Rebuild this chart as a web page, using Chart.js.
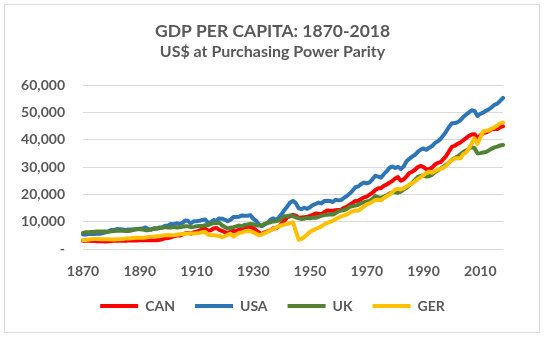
<!DOCTYPE html>
<html>
<head>
<meta charset="utf-8">
<script src="https://cdn.jsdelivr.net/npm/chart.js@4"></script>
<style>
  html, body { margin: 0; padding: 0; background: #fff; }
  #wrap { width: 545px; height: 338px; position: relative; }
</style>
</head>
<body>
<div id="wrap"><canvas id="myChart"></canvas></div>
<script>
// years 1870..2018
let years = [];
for (let y = 1870; y <= 2018; y++) years.push(String(y));

let can = [
  3000, 3000, 3100, 2900, 2900, 2800, 2800, 2800, 2700, 2800,
  2900, 3000, 3000, 3000, 3100, 3000, 3100, 3100, 3100, 3100,
  3200, 3200, 3300, 3200, 3300, 3200, 3200, 3400, 3600, 3900,
  4000, 4300, 4600, 4900, 4900, 5300, 5700, 5900, 5600, 6100,
  6300, 6700, 7100, 7400, 6800, 6900, 7500, 7700, 7000, 6600,
  6200, 5700, 6300, 6600, 6500, 7100, 7400, 7800, 8200, 8100,
  7600, 6900, 6000, 5500, 6100, 6500, 6800, 7500, 7600, 8300,
  9200, 10400, 11700, 12000, 12500, 12200, 11400, 11500, 11600, 11700,
  12100, 12500, 13000, 12900, 12700, 13500, 14100, 14000, 14000, 14200,
  14300, 14400, 15100, 15500, 16200, 16900, 17600, 17700, 18300, 18900,
  19200, 19900, 20600, 21600, 22200, 22300, 23100, 23600, 24300, 24900,
  25800, 26300, 25000, 25500, 26600, 27800, 28300, 29000, 30000, 30400,
  30000, 29200, 29300, 29800, 30900, 31500, 31800, 32900, 34100, 35800,
  37400, 37800, 38500, 39000, 39800, 40600, 41400, 41900, 42000, 40600,
  41500, 42400, 42700, 43200, 43900, 43900, 43900, 44600, 44900
];

let usa = [
  5300, 5350, 5450, 5600, 5500, 5550, 5600, 5800, 6100, 6500,
  7000, 7000, 7300, 7200, 7100, 7000, 7100, 7100, 7200, 7300,
  7400, 7500, 7900, 7300, 7000, 7600, 7400, 7900, 8000, 8500,
  8600, 9200, 9100, 9400, 9200, 9500, 10400, 10300, 9300, 10200,
  10200, 10300, 10600, 10800, 9700, 9800, 10600, 10400, 11200, 11100,
  10700, 10200, 10700, 11700, 11700, 11800, 12300, 12200, 12200, 12400,
  11100, 10300, 9000, 8300, 9000, 9600, 10700, 11200, 10700, 11500,
  12800, 14300, 15600, 17000, 17600, 16800, 14900, 14600, 15100, 14700,
  15300, 16100, 16500, 17000, 16700, 17600, 17700, 17600, 17200, 18000,
  17800, 17900, 18800, 19400, 20300, 21400, 22600, 22900, 23800, 24300,
  24000, 24400, 25500, 26800, 26500, 26100, 27400, 28400, 29700, 30200,
  29700, 30100, 29300, 30200, 32100, 33000, 33800, 34500, 35600, 36400,
  36800, 36300, 37100, 37700, 38800, 39400, 40300, 41600, 43100, 44700,
  46000, 46100, 46400, 47200, 48300, 49200, 50000, 50800, 50500, 48700,
  49500, 49900, 50600, 51100, 51900, 52800, 53200, 54200, 55300
];

let uk = [
  5900, 6100, 6100, 6200, 6300, 6400, 6400, 6400, 6400, 6300,
  6500, 6600, 6700, 6700, 6700, 6600, 6600, 6800, 7000, 7200,
  7200, 7100, 6900, 6900, 7200, 7400, 7600, 7700, 7800, 8000,
  7900, 7900, 8100, 7900, 8000, 8100, 8300, 8300, 8000, 8100,
  8300, 8400, 8400, 8700, 8700, 9200, 9400, 9500, 9600, 8700,
  8000, 7500, 7800, 8000, 8300, 8600, 8300, 8900, 9000, 9200,
  9100, 8600, 8600, 8700, 9200, 9500, 9800, 10100, 10200, 10400,
  11200, 12000, 12100, 12300, 12000, 11600, 11200, 11000, 11100, 11400,
  11200, 11500, 11400, 11800, 12100, 12400, 12500, 12700, 12600, 13100,
  13800, 14100, 14200, 14700, 15400, 15700, 15900, 16200, 16800, 17100,
  17400, 17600, 18300, 19400, 19000, 18700, 19200, 19600, 20300, 20800,
  20800, 20600, 21000, 21800, 22400, 23300, 24200, 25300, 26400, 26800,
  26900, 26500, 26600, 27200, 28100, 28700, 29400, 30100, 30900, 31700,
  32700, 33300, 33900, 34700, 35500, 36100, 36700, 37300, 36900, 35000,
  35100, 35300, 35500, 36100, 36700, 37200, 37500, 37900, 38100
];

let ger = [
  3300, 3300, 3500, 3600, 3700, 3700, 3600, 3600, 3600, 3600,
  3500, 3500, 3600, 3600, 3700, 3800, 3800, 3900, 4000, 4100,
  4100, 4100, 4200, 4400, 4500, 4500, 4700, 4700, 4900, 5000,
  5100, 5000, 5000, 5200, 5400, 5500, 5500, 5700, 5700, 5700,
  5800, 5900, 6100, 6300, 5300, 5100, 5000, 4900, 4800, 4300,
  4700, 5200, 5600, 4500, 5300, 5900, 6000, 6500, 6600, 6500,
  6100, 5600, 5000, 5300, 5800, 6300, 6800, 7300, 7800, 8400,
  8700, 9000, 9200, 9500, 9800, 6500, 3400, 3700, 4400, 5300,
  6300, 6800, 7300, 7800, 8300, 9000, 9500, 9900, 10300, 10900,
  11500, 11900, 12300, 12600, 13300, 13800, 14100, 14000, 14800, 15600,
  16300, 16700, 17300, 17900, 18000, 17800, 18700, 19300, 19900, 20700,
  21800, 22000, 21800, 22200, 22900, 23500, 24100, 24700, 25600, 26300,
  27000, 27900, 28300, 27900, 28500, 29000, 29300, 29800, 30500, 31800,
  32600, 33100, 33200, 33200, 34700, 35300, 36800, 38700, 40500, 38500,
  40800, 43000, 43300, 43500, 44100, 44500, 45200, 46000, 46300
];

const TEXT = '#595959';
const FONT = 'Lato';

// light grey frame round the whole chart, like the Excel chart area
const frame = {
  id: 'frame',
  beforeDraw(chart) {
    const ctx = chart.ctx;
    ctx.save();
    ctx.fillStyle = '#fff';
    ctx.fillRect(0, 0, chart.width, chart.height);
    ctx.strokeStyle = '#d9d9d9';
    ctx.lineWidth = 1;
    ctx.strokeRect(4.5, 4.5, 535, 328);
    ctx.restore();
  }
};

function series(label, data, color, order) {
  return {
    label: label,
    data: data,
    borderColor: color,
    backgroundColor: color,
    borderWidth: 4,
    borderCapStyle: 'round',
    borderJoinStyle: 'round',
    pointRadius: 0,
    pointStyle: 'line',
    fill: false,
    tension: 0,
    order: order,
  };
}

new Chart('myChart', {
  type: 'line',
  data: {
    labels: years,
    datasets: [
      series('CAN', can, '#FF0000', 3),
      series('USA', usa, '#2E75B6', 2),
      series('UK', uk, '#548235', 1),
      series('GER', ger, '#FFC000', 0),
    ],
  },
  options: {
    responsive: true,
    maintainAspectRatio: false,
    animation: false,
    devicePixelRatio: 1,
    // symmetric padding keeps title and legend centred on the page
    layout: { padding: { left: 20, right: 20, top: 4, bottom: 15 } },
    scales: {
      x: {
        type: 'category',
        offset: false,
        afterFit(scale) { scale.height = 30; },
        grid: { display: false, drawTicks: false },
        border: { display: false },
        ticks: {
          autoSkip: false,
          maxRotation: 0,
          padding: 14,
          color: TEXT,
          font: { family: FONT, size: 14, weight: 'bold' },
          callback: function (val, i) {
            return i % 20 === 0 ? this.getLabelForValue(val) : '';
          },
        },
      },
      y: {
        min: 0,
        max: 60000,
        afterFit(scale) { scale.width = 63; },
        grid: { color: '#d9d9d9', lineWidth: 1, drawTicks: false },
        border: { display: false },
        ticks: {
          stepSize: 10000,
          padding: 18,
          color: TEXT,
          font: { family: FONT, size: 14, weight: 'bold' },
          callback: (v) => v === 0 ? '-' : v.toLocaleString('en-US'),
        },
      },
      // empty spacer on the right so the plot ends where the reference does
      yR: {
        type: 'linear',
        position: 'right',
        afterFit(scale) { scale.width = 22; },
        grid: { display: false, drawTicks: false },
        border: { display: false },
        ticks: { display: false },
      },
    },
    plugins: {
      tooltip: { enabled: false },
      title: {
        display: true,
        text: 'GDP PER CAPITA: 1870-2018',
        color: TEXT,
        font: { family: FONT, size: 17.5, weight: 'bold', lineHeight: 1.0 },
        padding: { top: 19, bottom: 3 },
      },
      subtitle: {
        display: true,
        text: 'US$ at Purchasing Power Parity',
        color: TEXT,
        font: { family: FONT, size: 16, weight: 'bold', lineHeight: 1.1 },
        padding: { top: 0, bottom: 24 },
      },
      legend: {
        position: 'bottom',
        labels: {
          usePointStyle: true,
          pointStyle: 'line',
          pointStyleWidth: 38,
          padding: 20,
          color: TEXT,
          font: { family: FONT, size: 14, weight: 'bold' },
          sort: (a, b) => a.datasetIndex - b.datasetIndex,
        },
      },
    },
  },
  plugins: [frame],
});
</script>
</body>
</html>
